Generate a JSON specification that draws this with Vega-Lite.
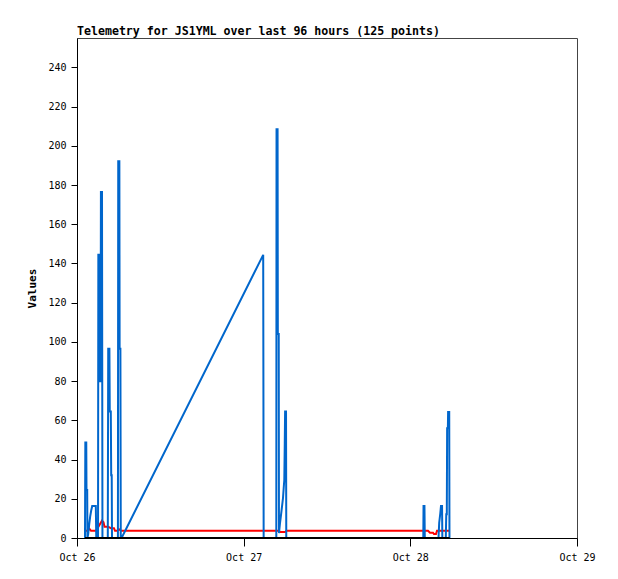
{
  "$schema": "https://vega.github.io/schema/vega-lite/v6.json",
  "width": 500,
  "height": 500,
  "autosize": {"type": "none"},
  "padding": {"left": 77, "top": 38, "right": 41, "bottom": 41},
  "background": "white",
  "title": {
    "text": "Telemetry for JS1YML over last 96 hours (125 points)",
    "anchor": "start",
    "frame": "group",
    "font": "DejaVu Sans Mono",
    "fontSize": 11.6,
    "fontWeight": "bold",
    "color": "black",
    "offset": 0
  },
  "config": {
    "view": {"stroke": "#444444", "strokeWidth": 1},
    "axis": {
      "grid": false,
      "domainColor": "black",
      "tickColor": "black",
      "labelColor": "black",
      "titleColor": "black",
      "labelFont": "DejaVu Sans Mono",
      "labelFontSize": 10,
      "titleFont": "DejaVu Sans Mono",
      "titleFontSize": 11,
      "titleFontWeight": "bold"
    }
  },
  "datasets": {
    "blue": [
      {"t": "2024-10-26T01:09:07Z", "v": 0},
      {"t": "2024-10-26T01:12:00Z", "v": 48.7},
      {"t": "2024-10-26T01:20:00Z", "v": 48.7},
      {"t": "2024-10-26T01:22:05Z", "v": 24.5},
      {"t": "2024-10-26T01:28:08Z", "v": 24.5},
      {"t": "2024-10-26T01:30:00Z", "v": 0},
      {"t": "2024-10-26T01:36:46Z", "v": 2},
      {"t": "2024-10-26T01:45:25Z", "v": 7},
      {"t": "2024-10-26T01:54:03Z", "v": 11},
      {"t": "2024-10-26T02:02:41Z", "v": 14},
      {"t": "2024-10-26T02:11:20Z", "v": 16.3},
      {"t": "2024-10-26T02:42:26Z", "v": 16.3},
      {"t": "2024-10-26T02:46:29Z", "v": 0},
      {"t": "2024-10-26T03:01:43Z", "v": 0},
      {"t": "2024-10-26T03:04:21Z", "v": 144.5},
      {"t": "2024-10-26T03:14:00Z", "v": 144.5},
      {"t": "2024-10-26T03:16:43Z", "v": 80},
      {"t": "2024-10-26T03:24:00Z", "v": 80},
      {"t": "2024-10-26T03:26:41Z", "v": 176.5},
      {"t": "2024-10-26T03:36:00Z", "v": 176.5},
      {"t": "2024-10-26T03:39:55Z", "v": 0},
      {"t": "2024-10-26T04:26:07Z", "v": 0},
      {"t": "2024-10-26T04:29:45Z", "v": 96.5},
      {"t": "2024-10-26T04:40:00Z", "v": 96.5},
      {"t": "2024-10-26T04:43:07Z", "v": 64.5},
      {"t": "2024-10-26T04:52:00Z", "v": 64.5},
      {"t": "2024-10-26T04:55:29Z", "v": 32},
      {"t": "2024-10-26T05:00:00Z", "v": 32},
      {"t": "2024-10-26T05:02:24Z", "v": 0},
      {"t": "2024-10-26T05:53:31Z", "v": 0},
      {"t": "2024-10-26T05:56:17Z", "v": 192.2},
      {"t": "2024-10-26T06:06:00Z", "v": 192.2},
      {"t": "2024-10-26T06:08:15Z", "v": 96.5},
      {"t": "2024-10-26T06:15:00Z", "v": 96.5},
      {"t": "2024-10-26T06:18:10Z", "v": 0},
      {"t": "2024-10-26T06:25:10Z", "v": 0},
      {"t": "2024-10-27T02:48:46Z", "v": 144.4},
      {"t": "2024-10-27T02:52:41Z", "v": 0},
      {"t": "2024-10-27T04:41:57Z", "v": 0},
      {"t": "2024-10-27T04:44:00Z", "v": 208.4},
      {"t": "2024-10-27T04:53:00Z", "v": 208.4},
      {"t": "2024-10-27T04:55:14Z", "v": 104},
      {"t": "2024-10-27T05:03:00Z", "v": 104},
      {"t": "2024-10-27T05:05:01Z", "v": 2.5},
      {"t": "2024-10-27T05:13:55Z", "v": 7.6},
      {"t": "2024-10-27T05:22:34Z", "v": 11.7},
      {"t": "2024-10-27T05:31:12Z", "v": 16},
      {"t": "2024-10-27T05:39:50Z", "v": 20.4},
      {"t": "2024-10-27T05:45:53Z", "v": 25.5},
      {"t": "2024-10-27T05:51:04Z", "v": 29.6},
      {"t": "2024-10-27T05:55:07Z", "v": 48.5},
      {"t": "2024-10-27T05:58:02Z", "v": 64.5},
      {"t": "2024-10-27T06:06:00Z", "v": 64.5},
      {"t": "2024-10-27T06:08:05Z", "v": 0},
      {"t": "2024-10-28T01:52:02Z", "v": 0},
      {"t": "2024-10-28T01:54:05Z", "v": 16.3},
      {"t": "2024-10-28T02:02:00Z", "v": 16.3},
      {"t": "2024-10-28T02:04:59Z", "v": 0},
      {"t": "2024-10-28T04:03:22Z", "v": 0},
      {"t": "2024-10-28T04:09:25Z", "v": 7.8},
      {"t": "2024-10-28T04:18:55Z", "v": 12.6},
      {"t": "2024-10-28T04:24:52Z", "v": 16.3},
      {"t": "2024-10-28T04:34:00Z", "v": 16.3},
      {"t": "2024-10-28T04:36:31Z", "v": 0},
      {"t": "2024-10-28T05:06:26Z", "v": 0},
      {"t": "2024-10-28T05:10:29Z", "v": 12.1},
      {"t": "2024-10-28T05:15:07Z", "v": 12.1},
      {"t": "2024-10-28T05:18:00Z", "v": 56},
      {"t": "2024-10-28T05:24:21Z", "v": 56},
      {"t": "2024-10-28T05:26:21Z", "v": 64.2},
      {"t": "2024-10-28T05:36:00Z", "v": 64.2},
      {"t": "2024-10-28T05:38:08Z", "v": 0}
    ],
    "red": [
      {"t": "2024-10-26T01:09:07Z", "v": 3.7},
      {"t": "2024-10-26T01:35:02Z", "v": 3.7},
      {"t": "2024-10-26T01:43:41Z", "v": 5},
      {"t": "2024-10-26T02:00:58Z", "v": 3.7},
      {"t": "2024-10-26T02:44:10Z", "v": 3.7},
      {"t": "2024-10-26T03:36:00Z", "v": 8.8},
      {"t": "2024-10-26T03:48:58Z", "v": 8},
      {"t": "2024-10-26T03:57:36Z", "v": 5.8},
      {"t": "2024-10-26T04:27:50Z", "v": 5.8},
      {"t": "2024-10-26T04:53:46Z", "v": 5},
      {"t": "2024-10-26T05:19:41Z", "v": 5},
      {"t": "2024-10-26T05:28:19Z", "v": 3.7},
      {"t": "2024-10-26T05:45:36Z", "v": 3.7},
      {"t": "2024-10-26T06:02:53Z", "v": 4.5},
      {"t": "2024-10-26T06:20:10Z", "v": 3.7},
      {"t": "2024-10-27T05:05:17Z", "v": 3.7},
      {"t": "2024-10-27T05:13:55Z", "v": 3},
      {"t": "2024-10-27T05:57:07Z", "v": 3},
      {"t": "2024-10-27T06:10:05Z", "v": 3.7},
      {"t": "2024-10-28T02:32:38Z", "v": 3.7},
      {"t": "2024-10-28T02:49:55Z", "v": 2.7},
      {"t": "2024-10-28T03:15:50Z", "v": 2.7},
      {"t": "2024-10-28T03:24:29Z", "v": 2},
      {"t": "2024-10-28T03:41:46Z", "v": 2},
      {"t": "2024-10-28T03:50:24Z", "v": 3.7},
      {"t": "2024-10-28T05:40:08Z", "v": 3.7}
    ],
    "black": [
      {"t": "2024-10-26T01:09:07Z", "v": 0},
      {"t": "2024-10-28T05:40:08Z", "v": 0}
    ]
  },
  "encoding": {
    "x": {
      "field": "t",
      "type": "temporal",
      "scale": {"type": "utc", "domain": ["2024-10-26T00:00:00Z", "2024-10-29T00:00:00Z"], "nice": false},
      "axis": {
        "title": null,
        "format": "%b %d",
        "tickCount": {"interval": "day", "step": 1},
        "tickSize": 8,
        "labelPadding": 6,
        "labelFlush": false,
        "labelOverlap": false
      }
    },
    "y": {
      "field": "v",
      "type": "quantitative",
      "scale": {"domain": [0, 255], "nice": false},
      "axis": {
        "title": "Values",
        "values": [0, 20, 40, 60, 80, 100, 120, 140, 160, 180, 200, 220, 240],
        "tickSize": 6,
        "labelPadding": 5,
        "titlePadding": 10
      }
    }
  },
  "layer": [
    {"data": {"name": "red"}, "mark": {"type": "line", "color": "#ff0000", "strokeWidth": 2}},
    {"data": {"name": "blue"}, "mark": {"type": "line", "color": "#0066cc", "strokeWidth": 2}},
    {"data": {"name": "black"}, "mark": {"type": "line", "color": "#000000", "strokeWidth": 2}}
  ]
}
